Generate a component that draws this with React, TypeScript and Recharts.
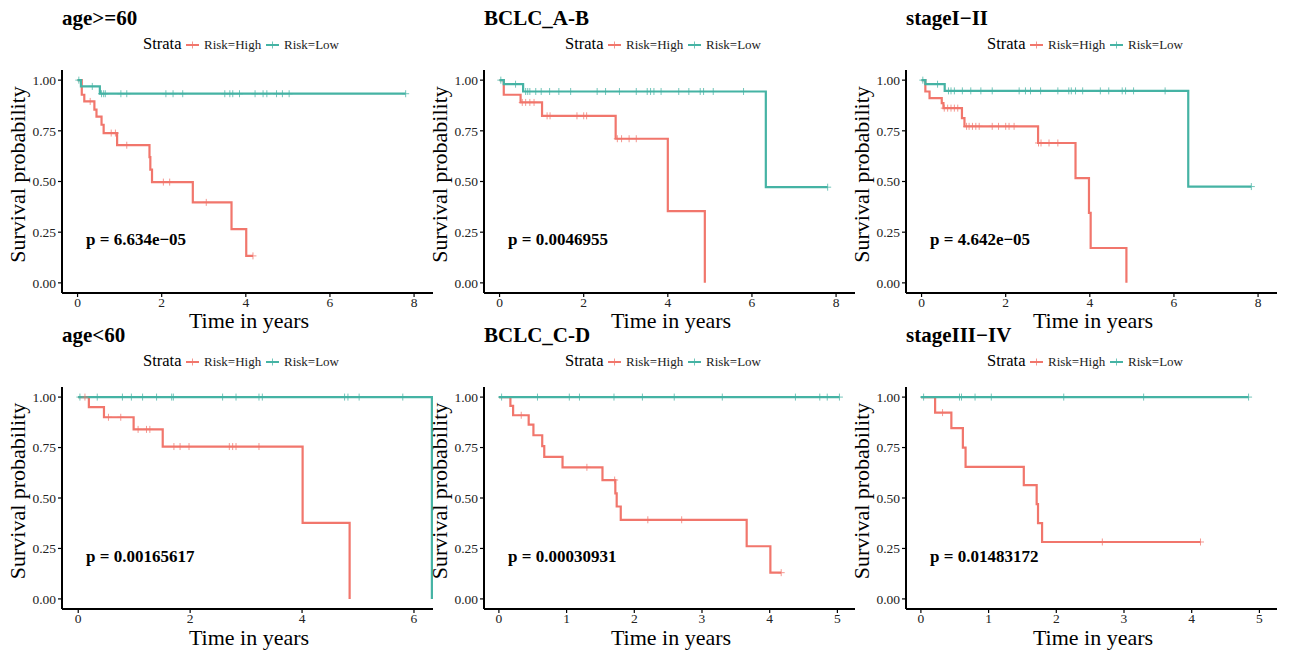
import React from "react";
import { ComposedChart, Line, Scatter, XAxis, YAxis } from "recharts";

const FONT = "'Liberation Serif', 'Times New Roman', Times, serif";
const RED = "#F1766C";
const TEAL = "#45B3A4";

// ---- data (times in years, survival probability) ----
const titles = ["age>=60", "BCLC_A-B", "stageI\u2212II", "age<60", "BCLC_C-D", "stageIII\u2212IV"];
const pValues = [
  "p = 6.634e\u221205",
  "p = 0.0046955",
  "p = 4.642e\u221205",
  "p = 0.00165617",
  "p = 0.00030931",
  "p = 0.01483172",
];
const legendLabels = ["Risk=High", "Risk=Low"];
const yTicks = [0, 0.25, 0.5, 0.75, 1];
const xTicksLong = [0, 2, 4, 6, 8];
const xTicksAge = [0, 2, 4, 6];
const xTicksShort = [0, 1, 2, 3, 4, 5];

// panel 1: age>=60
const p1HighT = [0, 0.1, 0.16, 0.4, 0.45, 0.57, 0.62, 0.94, 1.71, 1.73, 1.77, 2.74, 3.66, 4.01, 4.17];
const p1HighS = [1, 0.928, 0.895, 0.855, 0.82, 0.78, 0.739, 0.679, 0.62, 0.559, 0.497, 0.397, 0.265, 0.133, 0.133];
const p1HighCens = [0.3, 0.8, 0.9, 1.17, 2.04, 2.19, 3.06, 4.17];
const p1LowT = [0, 0.08, 0.53, 7.8];
const p1LowS = [1, 0.969, 0.933, 0.933];
const p1LowCens = [0.03, 0.35, 0.57, 0.62, 0.66, 1.03, 1.17, 2.1, 2.27, 2.5, 3.5, 3.62, 3.69, 3.85, 4.22, 4.41, 4.5, 4.73, 4.87, 5.03, 7.8];

// panel 2: BCLC_A-B
const p2HighT = [0, 0.1, 0.5, 1.01, 2.76, 4.0, 4.88];
const p2HighS = [1, 0.928, 0.89, 0.824, 0.711, 0.354, 0];
const p2HighCens = [0.54, 0.62, 0.72, 0.82, 1.13, 1.2, 1.84, 2.0, 2.07, 2.8, 2.9, 3.08, 3.25];
const p2LowT = [0, 0.1, 0.56, 6.33, 7.8];
const p2LowS = [1, 0.98, 0.944, 0.472, 0.472];
const p2LowCens = [0.03, 0.38, 0.62, 0.67, 0.72, 0.86, 0.99, 1.19, 1.41, 1.69, 2.32, 2.52, 2.85, 3.25, 3.51, 3.59, 3.67, 3.84, 4.26, 4.5, 4.77, 4.85, 5.08, 5.8, 7.8];

// panel 3: stageI-II
const p3HighT = [0, 0.09, 0.19, 0.48, 0.52, 0.96, 1.02, 2.77, 3.66, 3.98, 4.02, 4.87];
const p3HighS = [1, 0.944, 0.911, 0.887, 0.862, 0.813, 0.772, 0.69, 0.517, 0.345, 0.172, 0];
const p3HighCens = [0.54, 0.62, 0.7, 0.78, 0.86, 1.07, 1.13, 1.21, 1.29, 1.37, 1.68, 1.83, 2.0, 2.08, 2.2, 2.78, 2.84, 3.03, 3.24];
const p3LowT = [0, 0.09, 0.55, 6.34, 7.84];
const p3LowS = [1, 0.98, 0.947, 0.475, 0.475];
const p3LowCens = [0.03, 0.38, 0.64, 0.7, 0.78, 0.97, 1.17, 1.41, 1.68, 2.32, 2.47, 2.59, 2.83, 3.24, 3.5, 3.56, 3.66, 3.83, 4.25, 4.45, 4.77, 4.85, 5.04, 5.79, 7.84];

// panel 4: age<60
const p4HighT = [0, 0.19, 0.46, 0.99, 1.51, 4.01, 4.85];
const p4HighS = [1, 0.95, 0.9, 0.84, 0.755, 0.377, 0];
const p4HighCens = [0.12, 0.54, 0.76, 1.07, 1.22, 1.28, 1.71, 1.82, 1.98, 2.7, 2.76, 2.82, 3.23];
const p4LowT = [0, 6.32];
const p4LowS = [1, 0];
const p4LowCens = [0.03, 0.34, 0.79, 0.95, 1.15, 1.4, 1.67, 1.7, 2.58, 2.82, 3.23, 3.29, 4.76, 4.82, 5.02, 5.8];

// panel 5: BCLC_C-D
const p5HighT = [0, 0.17, 0.21, 0.44, 0.51, 0.64, 0.67, 0.94, 1.53, 1.72, 1.74, 1.8, 3.66, 4.01, 4.17];
const p5HighS = [1, 0.956, 0.91, 0.864, 0.811, 0.757, 0.704, 0.652, 0.589, 0.523, 0.458, 0.392, 0.261, 0.13, 0.13];
const p5HighCens = [0.33, 1.3, 1.71, 2.2, 2.7, 4.17];
const p5LowT = [0, 5.03];
const p5LowS = [1, 1];
const p5LowCens = [0.04, 0.57, 1.04, 1.19, 1.7, 2.12, 2.59, 3.3, 4.38, 4.74, 4.85, 5.03];

// panel 6: stageIII-IV
const p6HighT = [0, 0.21, 0.45, 0.62, 0.66, 1.52, 1.71, 1.73, 1.79, 4.13];
const p6HighS = [1, 0.923, 0.846, 0.75, 0.654, 0.564, 0.47, 0.376, 0.282, 0.282];
const p6HighCens = [0.32, 2.68, 4.13];
const p6LowT = [0, 4.84];
const p6LowS = [1, 1];
const p6LowCens = [0.04, 0.57, 0.6, 0.8, 1.04, 2.11, 3.29, 4.84];

// ---- helpers ----
const toSteps = (ts: number[], ss: number[]) => ts.map((t, i) => ({ t, s: ss[i] }));
const levelAt = (ts: number[], ss: number[], time: number) => {
  let v = ss[0];
  for (let i = 0; i < ts.length; i++) if (ts[i] <= time + 1e-9) v = ss[i];
  return v;
};
const toCens = (ts: number[], ss: number[], cens: number[]) =>
  cens.map((t) => ({ t, s: levelAt(ts, ss, t) }));

const panels = [
  { hT: p1HighT, hS: p1HighS, hC: p1HighCens, lT: p1LowT, lS: p1LowS, lC: p1LowCens, domain: [-0.37, 8.45], ticks: xTicksLong },
  { hT: p2HighT, hS: p2HighS, hC: p2HighCens, lT: p2LowT, lS: p2LowS, lC: p2LowCens, domain: [-0.37, 8.45], ticks: xTicksLong },
  { hT: p3HighT, hS: p3HighS, hC: p3HighCens, lT: p3LowT, lS: p3LowS, lC: p3LowCens, domain: [-0.37, 8.45], ticks: xTicksLong },
  { hT: p4HighT, hS: p4HighS, hC: p4HighCens, lT: p4LowT, lS: p4LowS, lC: p4LowCens, domain: [-0.29, 6.34], ticks: xTicksAge },
  { hT: p5HighT, hS: p5HighS, hC: p5HighCens, lT: p5LowT, lS: p5LowS, lC: p5LowCens, domain: [-0.22, 5.26], ticks: xTicksShort },
  { hT: p6HighT, hS: p6HighS, hC: p6HighCens, lT: p6LowT, lS: p6LowS, lC: p6LowCens, domain: [-0.22, 5.26], ticks: xTicksShort },
];

const COL_DX = 422;
const ROW_DY = 317;

const makePlus = (color: string) => (props: any) => {
  const { cx, cy } = props;
  if (cx == null || cy == null) return <g />;
  return (
    <g stroke={color} strokeWidth={1} opacity={0.75}>
      <line x1={cx - 3.5} y1={cy} x2={cx + 3.5} y2={cy} />
      <line x1={cx} y1={cy - 3.5} x2={cx} y2={cy + 3.5} />
    </g>
  );
};
const RedPlus = makePlus(RED);
const TealPlus = makePlus(TEAL);

const tickStyle = { fontFamily: FONT, fontSize: 13.5, fill: "#222" };

function Panel({ idx }: { idx: number }) {
  const p = panels[idx];
  const col = idx % 3;
  const row = Math.floor(idx / 3);
  const plotH = row === 0 ? 223 : 222;
  const height = 70 + plotH + 40;
  return (
    <div style={{ position: "absolute", left: col * COL_DX, top: row * ROW_DY, width: 438, height }}>
      <ComposedChart width={438} height={height} margin={{ top: 70, right: 5, left: 22, bottom: 0 }}>
        <XAxis
          type="number"
          dataKey="t"
          domain={p.domain}
          ticks={p.ticks}
          interval={0}
          allowDataOverflow
          height={40}
          axisLine={{ stroke: "#000", strokeWidth: 2 }}
          tickLine={{ stroke: "#000", strokeWidth: 1.2 }}
          tickSize={4}
          tickMargin={0}
          tick={tickStyle}
        />
        <YAxis
          type="number"
          dataKey="s"
          domain={[-0.05, 1.05]}
          ticks={yTicks}
          interval={0}
          allowDataOverflow
          width={40}
          tickFormatter={(v: number) => v.toFixed(2)}
          axisLine={{ stroke: "#000", strokeWidth: 2 }}
          tickLine={{ stroke: "#000", strokeWidth: 1.2 }}
          tickSize={4}
          tickMargin={2}
          tick={tickStyle}
        />
        <Line
          data={toSteps(p.hT, p.hS)}
          type="stepAfter"
          dataKey="s"
          stroke={RED}
          strokeWidth={2.2}
          dot={false}
          activeDot={false}
          isAnimationActive={false}
        />
        <Scatter data={toCens(p.hT, p.hS, p.hC)} shape={RedPlus} isAnimationActive={false} />
        <Line
          data={toSteps(p.lT, p.lS)}
          type="stepAfter"
          dataKey="s"
          stroke={TEAL}
          strokeWidth={2.2}
          dot={false}
          activeDot={false}
          isAnimationActive={false}
        />
        <Scatter data={toCens(p.lT, p.lS, p.lC)} shape={TealPlus} isAnimationActive={false} />
      </ComposedChart>
    </div>
  );
}

function Annotations() {
  const items: React.ReactNode[] = [];
  for (let i = 0; i < 6; i++) {
    const dx = (i % 3) * COL_DX;
    const dy = Math.floor(i / 3) * ROW_DY;
    const plotH = i < 3 ? 223 : 222;
    const plotMid = 70 + dy + plotH / 2;
    items.push(
      <g key={i}>
        <text x={62 + dx} y={25 + dy} fontFamily={FONT} fontWeight="bold" fontSize={21} fill="#000">
          {titles[i]}
        </text>
        <text x={143 + dx} y={49 + dy} fontFamily={FONT} fontSize={16.5} fill="#000">
          Strata
        </text>
        <line x1={186 + dx} y1={45 + dy} x2={199 + dx} y2={45 + dy} stroke={RED} strokeWidth={2} />
        <line x1={192.5 + dx} y1={41.5 + dy} x2={192.5 + dx} y2={48.5 + dy} stroke={RED} strokeWidth={1} opacity={0.75} />
        <text x={204 + dx} y={49 + dy} fontFamily={FONT} fontSize={13} fill="#222">
          {legendLabels[0]}
        </text>
        <line x1={266 + dx} y1={45 + dy} x2={279 + dx} y2={45 + dy} stroke={TEAL} strokeWidth={2} />
        <line x1={272.5 + dx} y1={41.5 + dy} x2={272.5 + dx} y2={48.5 + dy} stroke={TEAL} strokeWidth={1} opacity={0.75} />
        <text x={284 + dx} y={49 + dy} fontFamily={FONT} fontSize={13} fill="#222">
          {legendLabels[1]}
        </text>
        <text
          x={25 + dx}
          y={plotMid - 7}
          transform={`rotate(-90, ${25 + dx}, ${plotMid - 7})`}
          textAnchor="middle"
          fontFamily={FONT}
          fontSize={22}
          fill="#000"
        >
          Survival probability
        </text>
        <text x={249 + dx} y={328 + dy} textAnchor="middle" fontFamily={FONT} fontSize={22} fill="#000">
          Time in years
        </text>
        <text x={86 + dx} y={245 + dy} fontFamily={FONT} fontWeight="bold" fontSize={17} fill="#000">
          {pValues[i]}
        </text>
      </g>
    );
  }
  return (
    <svg width={1289} height={650} style={{ position: "absolute", left: 0, top: 0, pointerEvents: "none" }}>
      {items}
    </svg>
  );
}

export default function App() {
  return (
    <div style={{ position: "absolute", left: 0, top: 0, width: 1289, height: 650, background: "#fff", overflow: "hidden" }}>
      {[0, 1, 2, 3, 4, 5].map((i) => (
        <Panel key={i} idx={i} />
      ))}
      <Annotations />
    </div>
  );
}
